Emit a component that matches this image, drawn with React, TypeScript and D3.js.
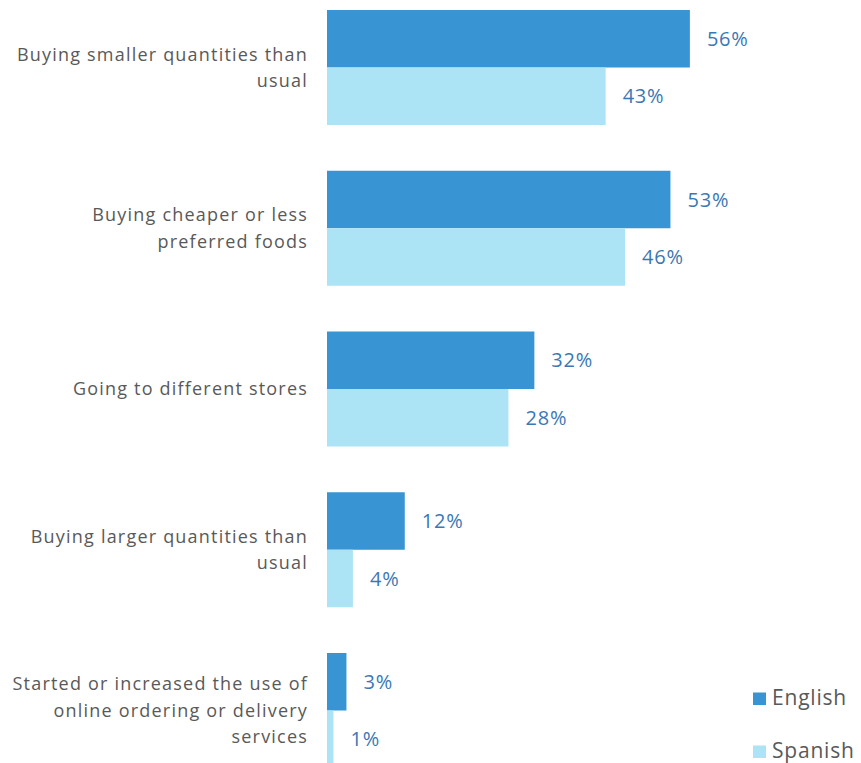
import React from "react";
import * as d3 from "d3";

const categories: string[][] = [
  ["Buying smaller quantities than", "usual"],
  ["Buying cheaper or less", "preferred foods"],
  ["Going to different stores"],
  ["Buying larger quantities than", "usual"],
  ["Started or increased the use of", "online ordering or delivery", "services"],
];
const series = ["English", "Spanish"];
const english = [56, 53, 32, 12, 3];
const spanish = [43, 46, 28, 4, 1];
const colors = ["#3894D2", "#ADE4F5"];

const W = 861;
const H = 763;
const FONT = "'Open Sans', 'Noto Sans', sans-serif";

export default function App() {
  const keys = categories.map((_, i) => String(i));
  const y = d3
    .scaleBand<string>()
    .domain(keys)
    .range([10, 768])
    .paddingInner(0.2846)
    .paddingOuter(0);
  const ys = d3.scaleBand<string>().domain(series).range([0, y.bandwidth()]);
  const x = d3.scaleLinear().domain([0, 100]).range([327, 327 + 648]);
  const values = [english, spanish];
  const lineH = 26.5;

  return (
    <svg
      width={W}
      height={H}
      style={{ position: "absolute", left: 0, top: 0, background: "#fff" }}
      fontFamily={FONT}
    >
      {categories.map((lines, i) => {
        const gy = y(String(i))!;
        const cy = gy + y.bandwidth() / 2;
        return (
          <g key={i}>
            {series.map((s, si) => {
              const v = values[si][i];
              const by = gy + ys(s)!;
              return (
                <g key={s}>
                  <rect
                    x={x(0)}
                    y={by}
                    width={x(v) - x(0)}
                    height={ys.bandwidth()}
                    fill={colors[si]}
                  />
                  <text
                    x={x(v) + 17}
                    y={by + ys.bandwidth() / 2}
                    dy="0.35em"
                    fontSize={20}
                    letterSpacing={0.8}
                    fill="#3A78B5"
                  >
                    {v}%
                  </text>
                </g>
              );
            })}
            {lines.map((l, li) => (
              <text
                key={li}
                x={308}
                y={cy + (li - (lines.length - 1) / 2) * lineH}
                dy="0.35em"
                textAnchor="end"
                fontSize={18}
                letterSpacing={1.2}
                fill="#595959"
              >
                {l}
              </text>
            ))}
          </g>
        );
      })}
      {series.map((s, si) => {
        const base = 705 + si * 53;
        return (
          <g key={s}>
            <rect x={753} y={base - 12.5} width={13} height={12.5} fill={colors[si]} />
            <text x={772} y={base} fontSize={21} letterSpacing={0.8} fill="#595959">
              {s}
            </text>
          </g>
        );
      })}
    </svg>
  );
}
